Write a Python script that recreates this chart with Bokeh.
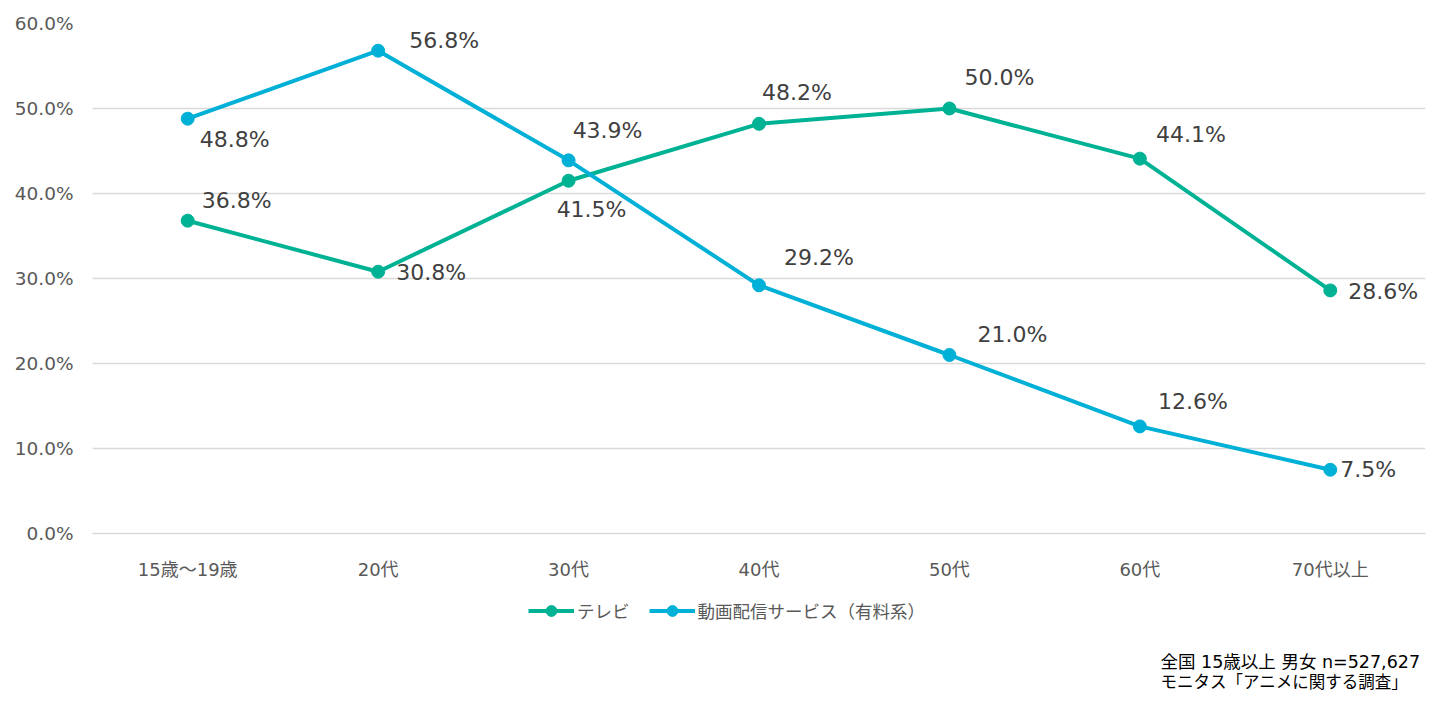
from bokeh.plotting import figure
from bokeh.layouts import column
from bokeh.models import (ColumnDataSource, Range1d, FixedTicker, PrintfTickFormatter,
                          Legend, LegendItem, Label)
from bokeh.core.properties import value
from bokeh.embed import file_html
from bokeh.resources import INLINE

categories = ["15歳〜19歳", "20代", "30代", "40代", "50代", "60代", "70代以上"]
tv = [36.8, 30.8, 41.5, 48.2, 50.0, 44.1, 28.6]
streaming = [48.8, 56.8, 43.9, 29.2, 21.0, 12.6, 7.5]
series_names = ["テレビ", "動画配信サービス（有料系）"]
y_ticks = [0, 10, 20, 30, 40, 50, 60]
note_lines = ["全国 15歳以上 男女 n=527,627", "モニタス「アニメに関する調査」"]
note_sizes = ["17.5px", "16.5px"]

# label offsets (style, screen px)
tv_dx = [49, 53, 23, 38, 50, 51, 53]
tv_dy = [-20, 1, 29, -31, -31, -24, 1]
st_dx = [47, 66, 39, 60, 63, 53, 38]
st_dy = [21, -10, -30, -28, -21, -25, 0]

FONT = "DejaVu Sans, Noto Sans CJK JP"
GREEN = "#00B294"
BLUE = "#00B0D6"
GREY = "#595959"

xs = list(range(len(categories)))

p = figure(frame_width=1333, frame_height=510, output_backend="svg", toolbar_location=None,
           x_range=Range1d(-0.5, len(categories) - 0.5), y_range=Range1d(0, 60),
           min_border_left=92, min_border_top=23, min_border_right=21, min_border_bottom=40)
p.outline_line_color = None
p.background_fill_color = "white"
p.border_fill_color = "white"

p.xgrid.grid_line_color = None
p.ygrid.grid_line_color = "#D9D9D9"
p.ygrid.grid_line_width = 1.5
p.yaxis.ticker = FixedTicker(ticks=y_ticks)
p.yaxis.formatter = PrintfTickFormatter(format="%.1f%%")
p.yaxis.axis_line_color = None
p.yaxis.major_tick_line_color = None
p.yaxis.minor_tick_line_color = None
p.yaxis.major_label_text_font_size = "18.5px"
p.yaxis.major_label_text_color = GREY
p.yaxis.major_label_text_font = FONT
p.yaxis.major_label_standoff = 13

p.xaxis.ticker = FixedTicker(ticks=xs)
p.xaxis.major_label_overrides = {i: c for i, c in enumerate(categories)}
p.xaxis.axis_line_color = "#D9D9D9"
p.xaxis.axis_line_width = 1.5
p.xaxis.major_tick_line_color = None
p.xaxis.minor_tick_line_color = None
p.xaxis.major_label_text_font_size = "18px"
p.xaxis.major_label_text_color = GREY
p.xaxis.major_label_text_font = FONT
p.xaxis.major_label_standoff = 19

src_tv = ColumnDataSource(dict(x=xs, y=tv, t=[f"{v:.1f}%" for v in tv], dx=tv_dx, dy=tv_dy))
src_st = ColumnDataSource(dict(x=xs, y=streaming, t=[f"{v:.1f}%" for v in streaming], dx=st_dx, dy=st_dy))

p.line("x", "y", source=src_tv, line_color=GREEN, line_width=4)
p.scatter("x", "y", source=src_tv, size=13, fill_color=GREEN, line_color=GREEN)
p.line("x", "y", source=src_st, line_color=BLUE, line_width=4)
p.scatter("x", "y", source=src_st, size=13, fill_color=BLUE, line_color=BLUE)

for src in (src_tv, src_st):
    p.text("x", "y", text="t", source=src, x_offset="dx", y_offset="dy",
           text_align="center", text_baseline="middle", text_font=value(FONT),
           text_font_size="22px", text_color="#404040")

# bottom strip: legend + source note (data coords = page pixels)
H2 = 123
p2 = figure(frame_width=1354, frame_height=H2, output_backend="svg", toolbar_location=None,
            x_range=Range1d(92, 1446), y_range=Range1d(H2, 0),
            x_axis_type=None, y_axis_type=None,
            min_border_left=92, min_border_right=0, min_border_top=0, min_border_bottom=0)
p2.outline_line_color = None
p2.xgrid.grid_line_color = None
p2.ygrid.grid_line_color = None
p2.border_fill_color = "white"

nan = float("nan")
dummy = dict(x=[nan], y=[nan])
dl1 = p2.line(x="x", y="y", source=ColumnDataSource(dummy), line_color=GREEN, line_width=4)
dc1 = p2.scatter(x="x", y="y", source=ColumnDataSource(dummy), size=11, fill_color=GREEN, line_color=GREEN)
dl2 = p2.line(x="x", y="y", source=ColumnDataSource(dummy), line_color=BLUE, line_width=4)
dc2 = p2.scatter(x="x", y="y", source=ColumnDataSource(dummy), size=11, fill_color=BLUE, line_color=BLUE)

legend = Legend(items=[LegendItem(label=series_names[0], renderers=[dl1, dc1]),
                       LegendItem(label=series_names[1], renderers=[dl2, dc2])],
                orientation="horizontal", location=(436, 81),
                label_text_font=FONT, label_text_font_size="17.5px", label_text_color=GREY,
                glyph_width=46, glyph_height=27, spacing=19, label_standoff=3,
                border_line_color=None, background_fill_alpha=0, margin=0, padding=4)
p2.add_layout(legend, "center")

for i, txt in enumerate(note_lines):
    p2.add_layout(Label(x=1160, y=79 + i * 21, text=txt, text_font=FONT,
                        text_font_size=note_sizes[i], text_color="black",
                        text_align="left", text_baseline="middle"))

layout = column(p, p2, spacing=0)
open("out.html", "w").write(file_html(layout, INLINE))
